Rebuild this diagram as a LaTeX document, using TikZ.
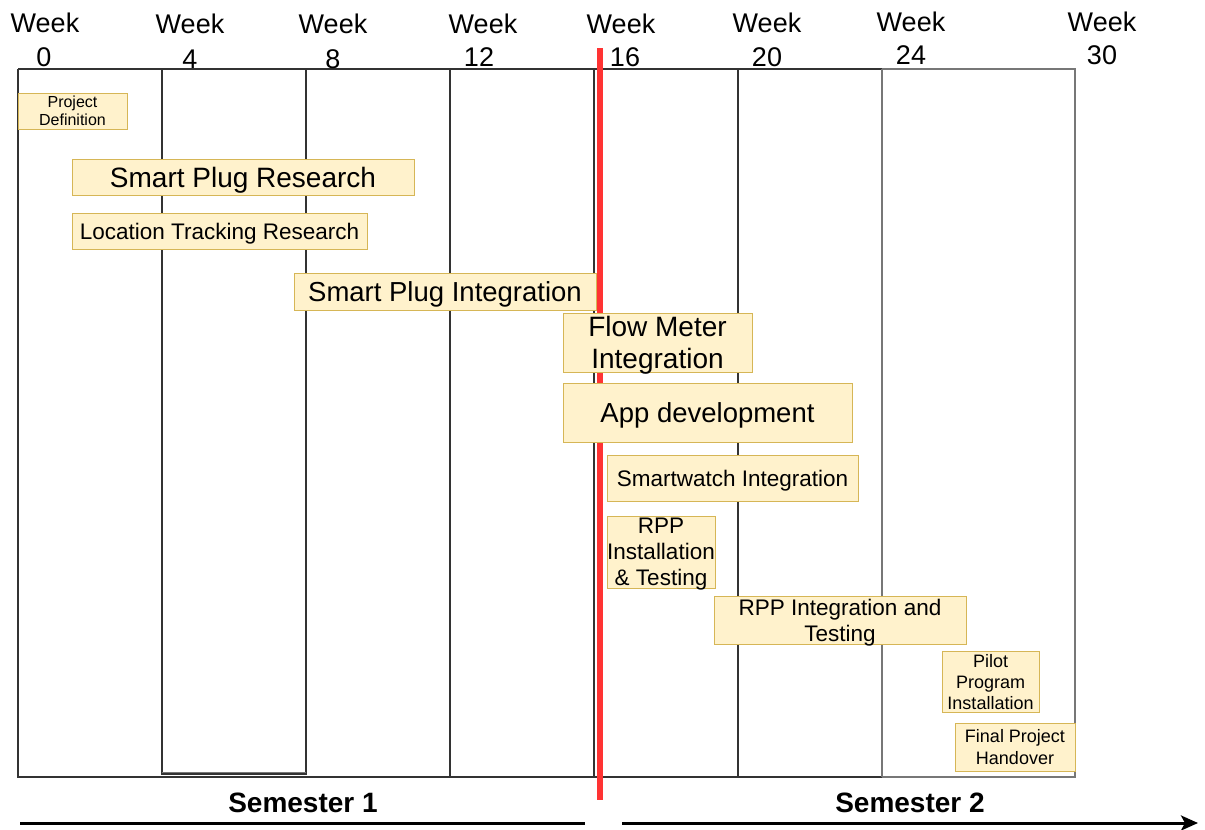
\documentclass[tikz,border=0pt]{standalone}
\usepackage{fontspec}
\setmainfont{Liberation Sans}
\usetikzlibrary{arrows.meta}
\definecolor{boxfill}{HTML}{FFF2CC}
\definecolor{boxline}{HTML}{D6B656}
\definecolor{gridline}{HTML}{333333}
\definecolor{gridlight}{HTML}{777777}
\definecolor{redline}{HTML}{FF3333}
\tikzset{
  taskbox/.style={draw=boxline, fill=boxfill, line width=1pt, align=center, inner sep=0pt, text depth=0pt},
  wklabel/.style={anchor=base, inner sep=0pt, font=\fontsize{27}{30}\selectfont},
  semlabel/.style={anchor=base, inner sep=0pt, font=\fontsize{28}{32}\selectfont\bfseries},
  gridln/.style={draw=gridline, line width=1.3pt},
}
\begin{document}
\begin{tikzpicture}[x=1pt, y=-1pt]
\useasboundingbox (0,0) rectangle (1205,830);
% grid
\draw[gridln] (18,69) -- (882,69);
\draw[draw=gridlight, line width=1.3pt] (882,69) -- (1075,69) -- (1075,777) -- (882,777);
\draw[gridln] (882,777) -- (18,777) -- (18,69);
\draw[gridln] (162,69) -- (162,774) -- (306,774) -- (306,69);
\draw[draw=gridlight, line width=0.8pt] (162,772) -- (306,772);
\draw[gridln] (450,69) -- (450,777);
\draw[gridln] (594,69) -- (594,777);
\draw[gridln] (738,69) -- (738,777);
\draw[draw=gridlight, line width=1.3pt] (882,69) -- (882,777);
% red current line (behind the task boxes)
\draw[draw=redline, line width=6pt] (600,48) -- (600,800);
% week labels
\node[wklabel] (wk0) at (45,32) {Week};
\node[wklabel] (wn0) at (44,66) {0};
\node[wklabel] (wk4) at (190,33) {Week};
\node[wklabel] (wn4) at (190,68) {4};
\node[wklabel] (wk8) at (333,33) {Week};
\node[wklabel] (wn8) at (333,68) {8};
\node[wklabel] (wk12) at (483,33) {Week};
\node[wklabel] (wn12) at (479,66) {12};
\node[wklabel] (wk16) at (621,33) {Week};
\node[wklabel] (wn16) at (625,66) {16};
\node[wklabel] (wk20) at (767,32) {Week};
\node[wklabel] (wn20) at (767,66) {20};
\node[wklabel] (wk24) at (911,31) {Week};
\node[wklabel] (wn24) at (911,64) {24};
\node[wklabel] (wk30) at (1102,31) {Week};
\node[wklabel] (wn30) at (1102,64) {30};
% tasks
\node[taskbox, minimum width=109pt, minimum height=36pt, font=\fontsize{16}{18}\selectfont] (pd) at (72.5,111) {Project\\Definition};
\node[taskbox, minimum width=342pt, minimum height=36pt, font=\fontsize{28}{32}\selectfont] (spr) at (243,177) {Smart Plug Research};
\node[taskbox, minimum width=295pt, minimum height=36pt, font=\fontsize{22.5}{26}\selectfont] (ltr) at (219.5,231) {Location Tracking Research};
\node[taskbox, minimum width=302pt, minimum height=37pt, font=\fontsize{27.5}{32}\selectfont] (spi) at (445,291.5) {Smart Plug Integration};
\node[taskbox, minimum width=189pt, minimum height=59pt, font=\fontsize{28}{32}\selectfont] (fmi) at (657.5,342.5) {Flow Meter\\Integration};
\node[taskbox, minimum width=289pt, minimum height=59pt, font=\fontsize{27.5}{32}\selectfont] (app) at (707.5,412.5) {App development};
\node[taskbox, minimum width=251pt, minimum height=46pt, font=\fontsize{22.5}{26}\selectfont] (swi) at (732.5,478) {Smartwatch Integration};
\node[taskbox, minimum width=108pt, minimum height=72pt, font=\fontsize{22.5}{26}\selectfont] (rppi) at (661,552) {RPP\\Installation\\\& Testing};
\node[taskbox, minimum width=252pt, minimum height=48pt, font=\fontsize{22.5}{26}\selectfont] (rppt) at (840,620) {RPP Integration and\\Testing};
\node[taskbox, minimum width=97pt, minimum height=61pt, font=\fontsize{18}{21}\selectfont] (ppi) at (990.5,681.5) {Pilot\\Program\\Installation};
\node[taskbox, minimum width=120pt, minimum height=48pt, font=\fontsize{18}{22}\selectfont] (fph) at (1015,747) {Final Project\\Handover};
% semesters
\node[semlabel] (s1) at (303,812) {Semester 1};
\node[semlabel] (s2) at (910,812) {Semester 2};
\coordinate (a1s) at (20,823);
\coordinate (a1e) at (585,823);
\coordinate (a2s) at (622,823);
\coordinate (a2e) at (1198,823);
\draw[line width=3pt] (a1s) -- (a1e);
\draw[line width=3pt, -{Stealth[length=17pt, width=15pt, inset=4pt]}] (a2s) -- (a2e);
\end{tikzpicture}
\end{document}
